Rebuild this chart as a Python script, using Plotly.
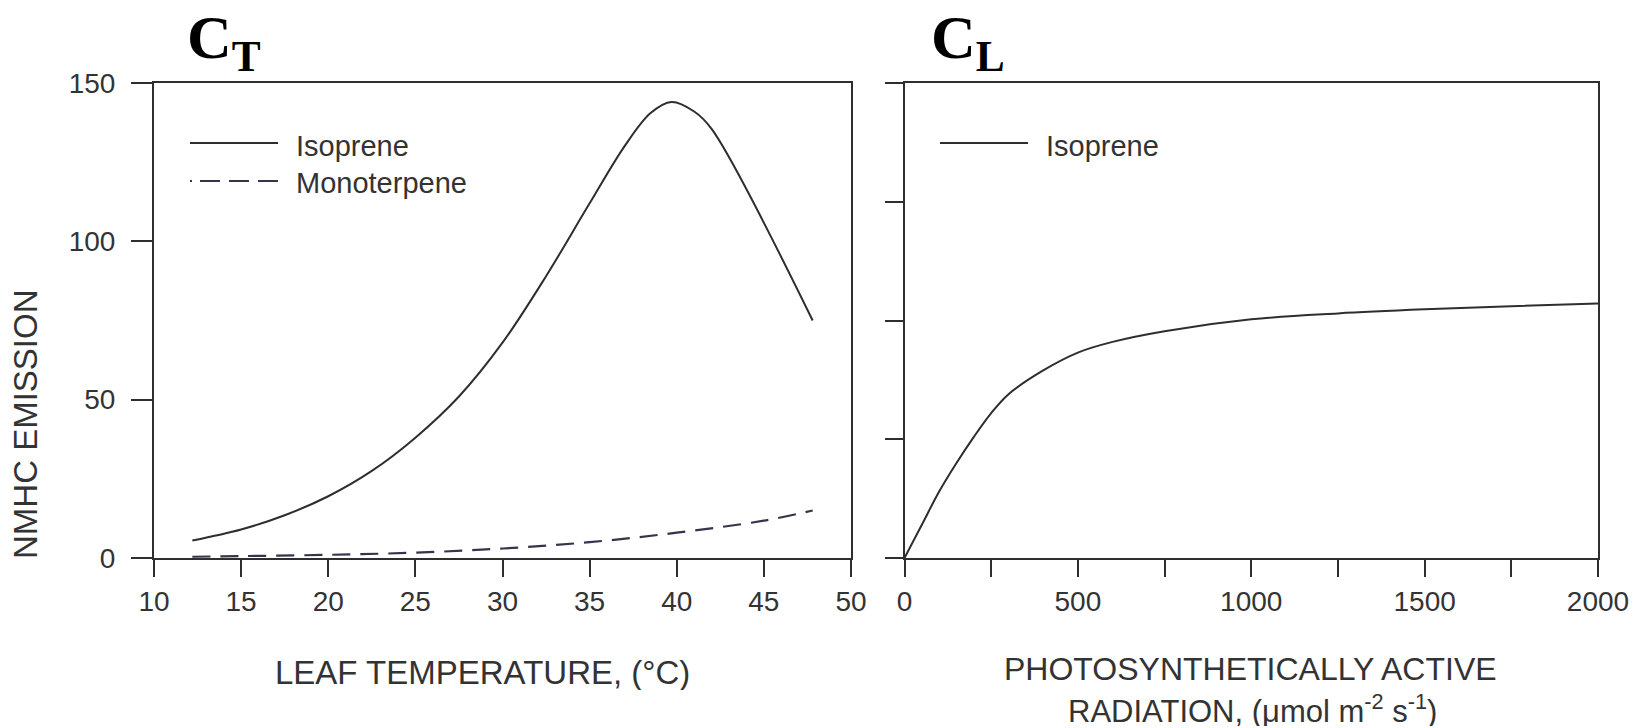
import plotly.graph_objects as go

# ---------------- data ----------------
temp_iso = [12.2, 15, 17.5, 20, 22.5, 25, 27.5, 30, 32.5, 35, 37, 38.5, 39.7, 41, 42, 47.8]
isoprene_t = [5.5, 9.0, 13.5, 19.5, 27.5, 38, 51, 68, 89, 112, 130, 140.5, 144, 141, 135.5, 75]

temp_mono = [12.2, 15, 20, 25, 30, 35, 40, 45, 47.8]
monoterpene_t = [0.4, 0.6, 1.0, 1.7, 3.0, 5.0, 8.0, 11.8, 15.0]

par = [0, 50, 100, 150, 200, 250, 300, 400, 500, 600, 750, 1000, 1250, 1500, 1750, 2000]
isoprene_l = [0, 0.14, 0.28, 0.40, 0.51, 0.61, 0.69, 0.79, 0.865, 0.91, 0.955, 1.005, 1.03, 1.047, 1.06, 1.072]

temp_ticks = [10, 15, 20, 25, 30, 35, 40, 45, 50]
emis_ticks = [0, 50, 100, 150]
par_ticks = [0, 500, 1000, 1500, 2000]
par_minor_ticks = [250, 750, 1250, 1750]
cl_ticks = [0, 0.5, 1.0, 1.5, 2.0]

# ---------------- layout helpers ----------------
W, H = 1641, 728
def px(x):
    return x / W
def py(y):
    return 1 - y / H

INK = "#2e2e2e"
DASH_INK = "#34344a"
SANS = "Liberation Sans, Arial, Helvetica, sans-serif"
SERIF = "Liberation Serif, Times New Roman, serif"

fig = go.Figure()

fig.add_trace(go.Scatter(x=temp_iso, y=isoprene_t, mode="lines", line=dict(color=INK, width=2, shape="spline"),
                         xaxis="x", yaxis="y", showlegend=False, name="Isoprene"))
fig.add_trace(go.Scatter(x=temp_mono, y=monoterpene_t, mode="lines",
                         line=dict(color=DASH_INK, width=2.2, dash="18px,10px", shape="spline"),
                         xaxis="x", yaxis="y", showlegend=False, name="Monoterpene"))
fig.add_trace(go.Scatter(x=par, y=isoprene_l, mode="lines", line=dict(color=INK, width=2, shape="spline"),
                         xaxis="x2", yaxis="y2", showlegend=False, name="Isoprene"))

ydom = [py(558), py(83)]
axis_common = dict(showline=True, linewidth=2, linecolor=INK, mirror=True, showgrid=False, zeroline=False,
                   ticks="outside", tickwidth=2, tickcolor=INK, automargin=False,
                   tickfont=dict(family=SANS, size=28, color="#333"))

fig.update_layout(
    width=W, height=H,
    margin=dict(l=0, r=0, t=0, b=0, pad=0, autoexpand=False),
    paper_bgcolor="white", plot_bgcolor="white",
    xaxis=dict(domain=[px(154), px(851)], range=[10, 50], tickvals=temp_ticks, ticklen=17,
               anchor="y", ticklabelstandoff=0, **axis_common),
    yaxis=dict(domain=ydom, range=[0, 150], tickvals=emis_ticks, ticklen=21,
               anchor="x", ticklabelstandoff=10, **axis_common),
    xaxis2=dict(domain=[px(904.5), px(1598)], range=[0, 2000], tickvals=par_ticks, ticklen=17,
                minor=dict(tickvals=par_minor_ticks, ticks="outside", ticklen=17, tickwidth=2, tickcolor=INK,
                           showgrid=False),
                anchor="y2", ticklabelstandoff=0, **axis_common),
    yaxis2=dict(domain=ydom, range=[0, 2], tickvals=cl_ticks, showticklabels=False, ticklen=18,
                anchor="x2", **axis_common),
)

# ---------------- manual legends ----------------
shapes = [
    dict(type="line", xref="paper", yref="paper", x0=px(190), x1=px(278), y0=py(143), y1=py(143),
         line=dict(color=INK, width=2)),
    dict(type="line", xref="paper", yref="paper", x0=px(190), x1=px(278), y0=py(181), y1=py(181),
         line=dict(color=DASH_INK, width=2, dash="2px,8px,20px,9px,20px,9px,20px")),
    dict(type="line", xref="paper", yref="paper", x0=px(940), x1=px(1028), y0=py(143), y1=py(143),
         line=dict(color=INK, width=2)),
]
fig.update_layout(shapes=shapes)

def ann(text, x, y, size, family=SANS, xanchor="center", yanchor="middle", angle=0, weight="normal",
        color="#333", height=None):
    kw = {}
    if height is not None:
        kw["height"] = height
    fig.add_annotation(text=text, x=px(x), y=py(y), xref="paper", yref="paper", showarrow=False,
                       xanchor=xanchor, yanchor=yanchor, textangle=angle,
                       font=dict(family=family, size=size, color=color, weight=weight), **kw)

ann("Isoprene", 294, 146, 29, xanchor="left")
ann("Monoterpene", 294, 183, 29, xanchor="left")
ann("Isoprene", 1044, 146, 29, xanchor="left")

ann("LEAF TEMPERATURE, (°C)", 482, 672, 33, height=36)
ann("PHOTOSYNTHETICALLY ACTIVE", 1250, 669, 32, height=34)
ann("RADIATION, (μmol m<sup>-2</sup> s<sup>-1</sup>)", 1252, 709, 31, height=34)
ann("NMHC EMISSION", 25, 424, 33, angle=-90)

ann("C<sub>T</sub>", 185, 41, 62, family=SERIF, xanchor="left", weight="bold", color="#000", height=64)
ann("C<sub>L</sub>", 929, 41, 62, family=SERIF, xanchor="left", weight="bold", color="#000", height=64)

fig.write_html("out.html")
